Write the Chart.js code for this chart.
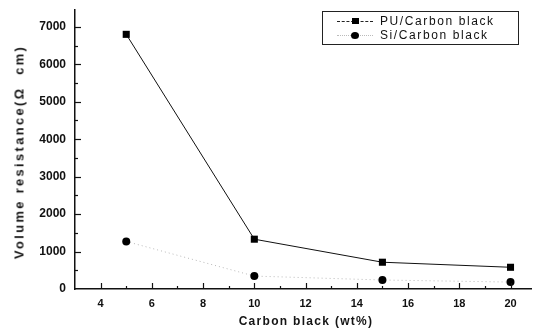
<!DOCTYPE html>
<html><head><meta charset="utf-8">
<script src="https://cdn.jsdelivr.net/npm/chart.js@4/dist/chart.umd.min.js"></script>
<style>
html,body{margin:0;padding:0;background:#fff;}
#wrap{position:relative;width:536px;height:331px;}
canvas{position:absolute;left:0;top:0;}
.ttl{position:absolute;font-family:"Liberation Sans",Arial,sans-serif;color:#151515;white-space:nowrap;}
#xt{left:306px;top:314px;font-size:12px;font-weight:bold;letter-spacing:1.3px;transform:translateX(-50%);}
#yt{left:19px;top:152px;font-size:13px;font-weight:bold;letter-spacing:2.3px;transform:translate(-50%,-50%) rotate(-90deg);}
#legend{position:absolute;left:322px;top:11px;width:195px;height:32px;border:1px solid #222;font-family:"Liberation Sans",Arial,sans-serif;font-size:12px;letter-spacing:1.6px;color:#111;}
.row{position:absolute;left:0;height:14px;line-height:14px;}
.row span.t{position:absolute;left:57px;top:0;}
.samp{position:absolute;left:14px;top:7px;width:36px;height:0;}
.l1{border-top:1px dashed #222;}
.l2{border-top:1px dotted #bbb;}
.sq{position:absolute;left:15px;top:-4px;width:7px;height:6px;background:#000;}
.ci{position:absolute;left:14px;top:-4px;width:8px;height:7px;border-radius:50%;background:#000;}
</style></head>
<body>
<div id="wrap">
<canvas id="c" width="536" height="331"></canvas>
<div class="ttl" id="yt">Volume resistance(Ω&nbsp;&nbsp;cm)</div>
<div class="ttl" id="xt">Carbon black (wt%)</div>
<div id="legend">
 <div class="row" style="top:2px;width:195px;"><div class="samp l1"><div class="sq"></div></div><span class="t">PU/Carbon black</span></div>
 <div class="row" style="top:16px;width:195px;"><div class="samp l2"><div class="ci"></div></div><span class="t">Si/Carbon black</span></div>
</div>
</div>
<script>
const carbonBlack = [5, 10, 15, 20];
const puValues = [6800, 1330, 715, 580];
const siValues = [1270, 345, 240, 185];
const xTickLabels = [4, 6, 8, 10, 12, 14, 16, 18, 20];
const yTickLabels = [0, 1000, 2000, 3000, 4000, 5000, 6000, 7000];

const inwardTicks = {
  id: 'inwardTicks',
  afterDraw(chart) {
    const ctx = chart.ctx, xs = chart.scales.x, ys = chart.scales.y;
    ctx.save();
    ctx.strokeStyle = '#111';
    ctx.lineWidth = 1.2;
    const x0 = xs.left, yb = ys.bottom;
    for (let v = 500; v <= 7000; v += 500) {
      const p = Math.round(ys.getPixelForValue(v)) + 0.5;
      const len = (v % 1000 === 0) ? 6 : 3;
      ctx.beginPath(); ctx.moveTo(x0, p); ctx.lineTo(x0 + len, p); ctx.stroke();
    }
    for (let v = 4; v <= 20; v += 1) {
      const p = Math.round(xs.getPixelForValue(v)) + 0.5;
      const len = (v % 2 === 0) ? 6 : 3;
      ctx.beginPath(); ctx.moveTo(p, yb); ctx.lineTo(p, yb - len); ctx.stroke();
    }
    ctx.restore();
  }
};

new Chart(document.getElementById('c'), {
  type: 'line',
  data: {
    datasets: [
      {
        label: 'PU/Carbon black',
        data: carbonBlack.map((x, i) => ({x, y: puValues[i]})),
        borderColor: '#111', borderWidth: 1,
        pointStyle: 'rect', pointRadius: 5, pointBackgroundColor: '#000', pointBorderWidth: 0,
        tension: 0
      },
      {
        label: 'Si/Carbon black',
        data: carbonBlack.map((x, i) => ({x, y: siValues[i]})),
        borderColor: '#b8b8b8', borderWidth: 1, borderDash: [1, 3],
        pointStyle: 'circle', pointRadius: 4, pointBackgroundColor: '#000', pointBorderWidth: 0,
        tension: 0
      }
    ]
  },
  options: {
    responsive: false, animation: false,
    layout: {padding: {top: 10, right: 0, left: 0, bottom: 0}},
    plugins: {legend: {display: false}, tooltip: {enabled: false}},
    scales: {
      x: {
        type: 'linear', min: 3, max: 20.8,
        afterFit: s => { s.height = 42; s.paddingLeft = 0; s.paddingRight = 0; },
        afterBuildTicks: s => { s.ticks = xTickLabels.map(v => ({value: v})); },
        grid: {display: false, drawTicks: false},
        border: {display: true, color: '#111', width: 1.5},
        ticks: {padding: 8, color: '#111', font: {family: 'Liberation Sans', size: 11, weight: 'bold'}, maxRotation: 0, autoSkip: false,
          callback: v => String(v)}
      },
      y: {
        type: 'linear', min: 0, max: 7450,
        afterFit: s => { s.width = 75; s.paddingTop = 0; s.paddingBottom = 0; },
        afterBuildTicks: s => { s.ticks = yTickLabels.map(v => ({value: v})); },
        grid: {display: false, drawTicks: false},
        border: {display: true, color: '#111', width: 1.5},
        ticks: {padding: 9, color: '#111', font: {family: 'Liberation Sans', size: 12, weight: 'bold'}, autoSkip: false,
          callback: v => String(v)}
      }
    }
  },
  plugins: [inwardTicks]
});
</script>
</body></html>
